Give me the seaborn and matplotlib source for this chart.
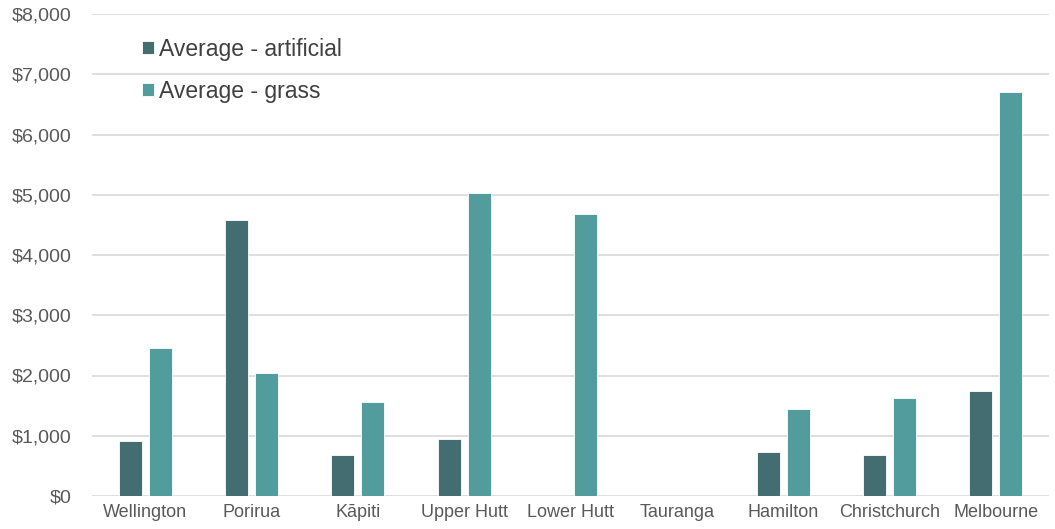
import matplotlib
matplotlib.use("Agg")
import matplotlib.pyplot as plt
import seaborn as sns
import pandas as pd
import numpy as np
from matplotlib.ticker import FuncFormatter

cities = ["Wellington", "Porirua", "Kāpiti", "Upper Hutt", "Lower Hutt",
          "Tauranga", "Hamilton", "Christchurch", "Melbourne"]
artificial = [920, 4580, 680, 940, np.nan, np.nan, 725, 680, 1740]
grass = [2460, 2040, 1555, 5030, 4675, np.nan, 1445, 1630, 6705]
series_names = ["Average - artificial", "Average - grass"]
colors = ["#436D71", "#529C9D"]

df = pd.DataFrame({
    "city": cities * 2,
    "value": artificial + grass,
    "series": [series_names[0]] * len(cities) + [series_names[1]] * len(cities),
})

sns.set_style("white")
plt.rcParams['font.family'] = ['Liberation Sans', 'DejaVu Sans']

fig = plt.figure(figsize=(10.55, 5.29), dpi=100)
ax = fig.add_axes([92 / 1055, 1 - 496 / 529, (1049 - 92) / 1055, (496 - 14) / 529])

sns.barplot(data=df, x="city", y="value", hue="series", order=cities,
            hue_order=series_names, palette=colors, saturation=1,
            width=0.566, gap=0.23, edgecolor="white", linewidth=0.6,
            ax=ax, zorder=3)

ax.set_ylim(0, 8000)
ax.set_xlim(-0.5, 8.5)
ax.set_yticks(range(0, 8001, 1000))
ax.yaxis.set_major_formatter(FuncFormatter(lambda v, p: f"${v:,.0f}"))
ax.grid(axis="y", color="#D9D9D9", linewidth=1.2, zorder=0)
ax.set_axisbelow(True)
for s in ax.spines.values():
    s.set_visible(False)
ax.set_xlabel("")
ax.set_ylabel("")
ax.tick_params(axis="x", length=0, labelsize=13, colors="#595959", pad=6)
ax.tick_params(axis="y", length=0, labelsize=14, colors="#595959", pad=15)

leg = ax.legend(loc="upper left", bbox_to_anchor=(0.031, 0.994), frameon=False,
                fontsize=16.5, handlelength=0.5, handleheight=0.5, handletextpad=0.25,
                labelspacing=0.85, labelcolor="#404040")

fig.savefig("out.png", dpi=100)
